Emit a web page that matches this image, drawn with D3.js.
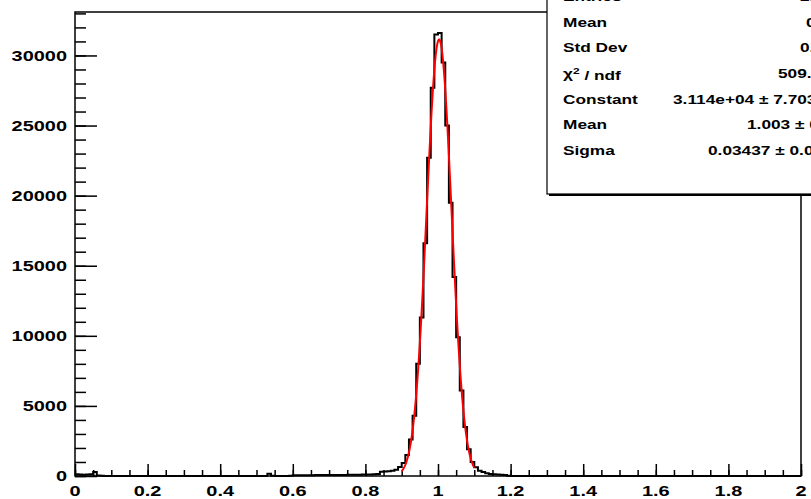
<!DOCTYPE html>
<html>
<head>
<meta charset="utf-8">
<script src="https://cdn.jsdelivr.net/npm/d3@7.9.0/dist/d3.min.js"></script>
<style>
  html, body { margin: 0; padding: 0; background: #fff; }
  svg { display: block; }
  text { font-family: "Liberation Sans", Arial, sans-serif; font-weight: bold; fill: #000; }
</style>
</head>
<body>
<svg id="chart" width="811" height="499"></svg>
<script>
// histogram: 200 bins of width 0.01 from 0 to 2 (counts)
const binStart = 0;
const binWidth = 0.01;
const counts = [
  130, 100, 90, 100, 120, 280, 30, 10, 5, 4,
  3, 3, 2, 2, 2, 2, 2, 2, 1, 1,
  1, 1, 1, 1, 1, 1, 1, 1, 1, 1,
  1, 1, 1, 1, 1, 1, 1, 1, 1, 1,
  1, 1, 1, 1, 1, 1, 2, 2, 2, 2,
  3, 3, 4, 160, 20, 5, 5, 6, 8, 10,
  50, 55, 55, 60, 60, 60, 65, 65, 70, 70,
  70, 75, 75, 80, 80, 85, 85, 90, 95, 100,
  105, 110, 120, 140, 310, 320, 340, 380, 450, 650,
  920, 1500, 2600, 4300, 8000, 11300, 16600, 22700, 27700, 31500,
  31600, 29500, 25000, 19500, 14200, 9900, 6100, 3500, 1900, 1000,
  620, 380, 280, 200, 150, 120, 100, 85, 70, 20,
  5, 3, 2, 1, 1, 0, 0, 0, 0, 0
];
// remaining bins up to 2.0 are empty
while (counts.length < 200) counts.push(0);

// gaus fit parameters from the stats box
const fitConstant = 31140;
const fitMean = 1.003;
const fitSigma = 0.03437;
const fitRange = [0.9, 1.1];

const xTicks = [0, 0.2, 0.4, 0.6, 0.8, 1, 1.2, 1.4, 1.6, 1.8, 2];
const xTickLabels = ['0', '0.2', '0.4', '0.6', '0.8', '1', '1.2', '1.4', '1.6', '1.8', '2'];
const yTicks = [0, 5000, 10000, 15000, 20000, 25000, 30000];

const statLabels = ['Entries', 'Mean', 'Std Dev', 'chi', 'Constant', 'Mean', 'Sigma'];
const statValues = ['2.683e+05', '0.9981', '0.06418', '509.5 / 27',
  '3.114e+04 \u00b1 7.703e+01', '1.003 \u00b1 0.000', '0.03437 \u00b1 0.00002'];
const statValueX = [800, 806, 800, 778, 673, 747, 708];

const svg = d3.select('#chart');
const x = d3.scaleLinear().domain([0, 2]).range([75, 801]);
const y = d3.scaleLinear().domain([0, 33100]).range([476, 12]);

const SX = 1.33; // ROOT text looks horizontally stretched

function label(g, px, py, str, size, anchor) {
  const t = g.append('g')
    .attr('transform', `translate(${px},${py}) scale(${SX},1)`)
    .append('text')
    .attr('font-size', size)
    .attr('text-anchor', anchor)
    .attr('dy', '0.36em')
    .text(str);
  return t;
}

svg.append('rect').attr('width', 811).attr('height', 499).attr('fill', '#fff');

// axes: ticks point into the frame
const minorY = d3.axisLeft(y).tickValues(d3.range(0, 33001, 1000)).tickSize(-11).tickFormat('');
const majorY = d3.axisLeft(y).tickValues(yTicks).tickSize(-22).tickFormat('');
const minorX = d3.axisBottom(x).tickValues(d3.range(0, 2.001, 0.05)).tickSize(-6).tickFormat('');
const majorX = d3.axisBottom(x).tickValues(xTicks).tickSize(-12).tickFormat('');

[minorY, majorY].forEach(a => {
  svg.append('g').attr('transform', `translate(${x(0)},0)`).call(a)
    .call(g => g.select('.domain').remove())
    .selectAll('line').attr('stroke', '#000').attr('stroke-width', 1.5);
});
[minorX, majorX].forEach(a => {
  svg.append('g').attr('transform', `translate(0,${y(0)})`).call(a)
    .call(g => g.select('.domain').remove())
    .selectAll('line').attr('stroke', '#000').attr('stroke-width', 1.5);
});

// frame
svg.append('rect')
  .attr('x', x(0)).attr('y', y.range()[1])
  .attr('width', x(2) - x(0)).attr('height', y(0) - y.range()[1])
  .attr('fill', 'none').attr('stroke', '#000').attr('stroke-width', 1.5);

// tick labels
const labels = svg.append('g');
yTicks.forEach(v => label(labels, 67, y(v), String(v), 15, 'end'));
xTicks.forEach((v, i) => label(labels, x(v), 491, xTickLabels[i], 15, 'middle'));

// histogram outline
const steps = counts.map((c, i) => [binStart + i * binWidth, c]);
steps.push([binStart + counts.length * binWidth, counts[counts.length - 1]]);
const histLine = d3.line().x(d => x(d[0])).y(d => y(d[1])).curve(d3.curveStepAfter);
svg.append('path').attr('d', histLine(steps))
  .attr('fill', 'none').attr('stroke', '#000').attr('stroke-width', 2);

// fitted gaussian
const gaus = v => fitConstant * Math.exp(-0.5 * ((v - fitMean) / fitSigma) ** 2);
const fitPts = d3.range(fitRange[0], fitRange[1] + 1e-9, 0.001).map(v => [v, gaus(v)]);
svg.append('path')
  .attr('d', d3.line().x(d => x(d[0])).y(d => y(d[1])).curve(d3.curveLinear)(fitPts))
  .attr('fill', 'none').attr('stroke', '#ff0000').attr('stroke-width', 2);

// stats box
const box = svg.append('g');
box.append('rect').attr('x', 549).attr('y', -20).attr('width', 300).attr('height', 216).attr('fill', '#000');
box.append('rect').attr('x', 547).attr('y', -20).attr('width', 300).attr('height', 214)
  .attr('fill', '#fff').attr('stroke', '#000').attr('stroke-width', 1.2);

statLabels.forEach((s, i) => {
  const yy = 22 + 25.7 * (i - 1);
  if (s === 'chi') {
    const t = label(box, 563, yy, '', 13, 'start');
    t.append('tspan').text('\u03c7');
    t.append('tspan').attr('font-size', 9).attr('dy', '-0.5em').text('2');
    t.append('tspan').attr('dy', '0.5em').text(' / ndf');
  } else {
    label(box, 563, yy, s, 13, 'start');
  }
  label(box, statValueX[i], yy, statValues[i], 13, 'start');
});
</script>
</body>
</html>
